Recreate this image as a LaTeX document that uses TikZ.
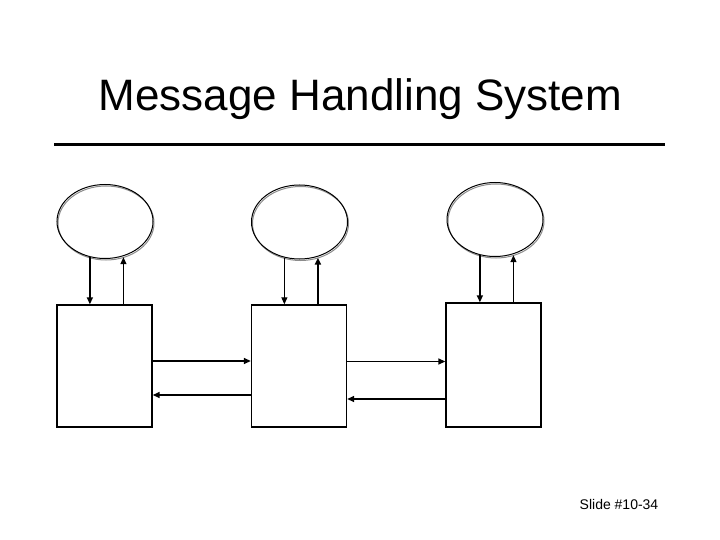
\documentclass[tikz,border=0pt]{standalone}
\usepackage{fontspec}
\setmainfont{Liberation Sans}
\usetikzlibrary{shapes.geometric,arrows.meta,calc}
\begin{document}
\begin{tikzpicture}[x=1pt,y=-1pt,
  oval/.style={ellipse,draw=black,line width=1pt,minimum width=96pt,minimum height=74pt,inner sep=0pt},
  ovalshade/.style={ellipse,draw=black!45,line width=1pt,minimum width=96pt,minimum height=74pt,inner sep=0pt},
  agent/.style={rectangle,draw=black,line width=1.4pt,minimum width=95pt,minimum height=122pt,inner sep=0pt},
  thin arr/.style={line width=1.2pt,-{Triangle[length=7pt,width=6pt]}},
  thick arr/.style={line width=2.2pt,-{Triangle[length=7pt,width=6pt]}},
  harr/.style={line width=1.5pt,-{Triangle[length=7pt,width=6pt]}}]
\useasboundingbox (0,0) rectangle (720,540);
\fill[white] (0,0) rectangle (720,540);
% title
\node[anchor=base,font=\fontsize{44}{50}\selectfont,inner sep=0pt] (title) at (360.5,110.7) {Message Handling System};
\coordinate (rl) at (54,144.5);
\coordinate (rr) at (665,144.5);
\draw[line width=3pt] (rl) -- (rr);
% ellipses (grey shadow outline + black outline)
\node[ovalshade] (e1s) at (106,223) {};
\node[oval] (e1) at (105,221.5) {};
\node[ovalshade] (e2s) at (300.5,223.5) {};
\node[oval] (e2) at (299.5,222) {};
\node[ovalshade] (e3s) at (496,221) {};
\node[oval] (e3) at (495,219.5) {};
% boxes
\node[agent] (b1) at (104.5,366) {};
\node[agent] (b2) at (299,366) {};
\node[agent,minimum height=124pt] (b3) at (493.5,365) {};
% vertical arrows
\draw[thick arr] (e1.247) -- (e1.247 |- b1.north);
\draw[thin arr] (e1.298 |- b1.north) -- ($(e1.298)+(0,1)$);
\draw[thin arr] (e2.247) -- (e2.247 |- b2.north);
\draw[thick arr] (e2.298 |- b2.north) -- ($(e2.298)+(0,1)$);
\draw[thick arr] (e3.247) -- (e3.247 |- b3.north);
\draw[thin arr] (e3.298 |- b3.north) -- ($(e3.298)+(0,1)$);
% horizontal arrows
\draw[harr] ([yshift=5pt]b1.east) -- ([yshift=5pt]b1.east -| b2.west);
\draw[harr] ([yshift=-29pt]b2.west) -- ([yshift=-29pt]b2.west -| b1.east);
\draw[harr] ([yshift=4.5pt]b2.east) -- ([yshift=4.5pt]b2.east -| b3.west);
\draw[harr] ([yshift=-34pt]b3.west) -- ([yshift=-34pt]b3.west -| b2.east);
% footer
\node[anchor=base,font=\fontsize{14}{16}\selectfont,inner sep=0pt] (slide) at (619,509) {Slide \#10-34};
\end{tikzpicture}
\end{document}
